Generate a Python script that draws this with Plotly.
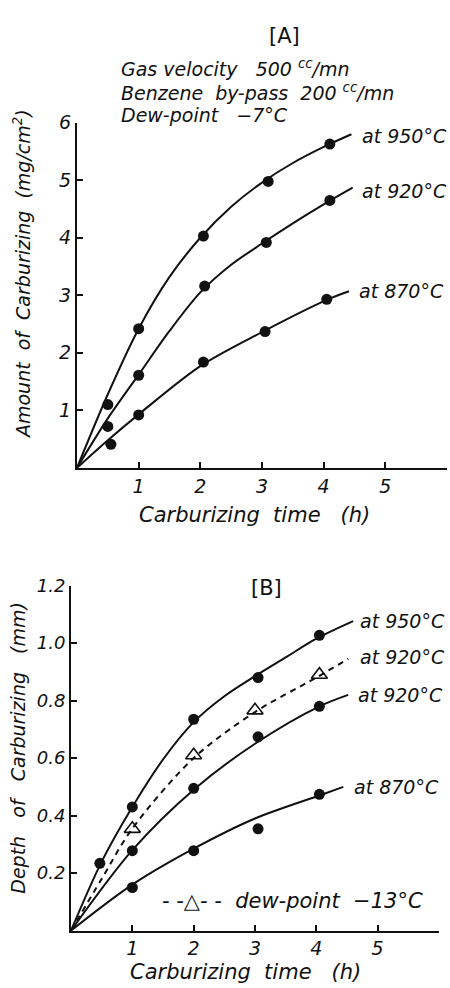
import plotly.graph_objects as go

# ---------------- data: panel A (amount of carburizing, mg/cm2) ----------------
a950_pts_x = [0.5, 1.0, 2.05, 3.1, 4.1]
a950_pts_y = [1.1, 2.42, 4.03, 4.98, 5.63]
a920_pts_x = [0.5, 1.0, 2.07, 3.07, 4.1]
a920_pts_y = [0.72, 1.61, 3.16, 3.92, 4.65]
a870_pts_x = [0.55, 1.0, 2.05, 3.05, 4.05]
a870_pts_y = [0.41, 0.92, 1.84, 2.37, 2.93]

a950_curve_x = [0, 0.5, 1.0, 1.5, 2.0, 2.5, 3.0, 3.5, 4.0, 4.45]
a950_curve_y = [0, 1.28, 2.42, 3.32, 4.0, 4.54, 4.96, 5.3, 5.58, 5.8]
a920_curve_x = [0, 0.5, 1.0, 1.5, 2.0, 2.5, 3.0, 3.5, 4.0, 4.47]
a920_curve_y = [0, 0.86, 1.62, 2.38, 3.05, 3.53, 3.9, 4.25, 4.58, 4.87]
a870_curve_x = [0, 0.5, 1.0, 2.0, 3.0, 4.05, 4.41]
a870_curve_y = [0, 0.48, 0.93, 1.77, 2.36, 2.92, 3.07]

# ---------------- data: panel B (depth of carburizing, mm) ----------------
b950_pts_x = [0.47, 1.0, 2.0, 3.05, 4.05]
b950_pts_y = [0.234, 0.43, 0.735, 0.88, 1.027]
b920d_pts_x = [1.0, 2.0, 3.0, 4.05]
b920d_pts_y = [0.354, 0.61, 0.766, 0.89]
b920_pts_x = [1.0, 2.0, 3.05, 4.05]
b920_pts_y = [0.278, 0.495, 0.674, 0.78]
b870_pts_x = [1.0, 2.0, 3.05, 4.05]
b870_pts_y = [0.15, 0.278, 0.354, 0.474]

b950_curve_x = [0, 0.5, 1.0, 1.5, 2.0, 2.5, 3.0, 3.5, 4.0, 4.6]
b950_curve_y = [0, 0.24, 0.43, 0.595, 0.725, 0.815, 0.885, 0.95, 1.015, 1.076]
b920d_curve_x = [0, 0.5, 1.0, 2.0, 3.0, 4.0, 4.52]
b920d_curve_y = [0, 0.18, 0.355, 0.6, 0.76, 0.88, 0.945]
b920_curve_x = [0, 1.0, 2.0, 3.0, 4.05, 4.52]
b920_curve_y = [0, 0.28, 0.49, 0.65, 0.78, 0.82]
b870_curve_x = [0, 1.0, 2.0, 3.0, 4.05, 4.44]
b870_curve_y = [0, 0.16, 0.285, 0.39, 0.47, 0.5]

xticks = [1, 2, 3, 4, 5]
a_yticks = [1, 2, 3, 4, 5, 6]
b_yticks = [0.2, 0.4, 0.6, 0.8, 1.0, 1.2]
b_yticklabels = ["0.2", "0.4", "0.6", "0.8", "1.0", "1.2"]

FONT = "DejaVu Sans"
BLACK = "#111111"

fig = go.Figure()

def curve(x, y, xa, ya, dash="solid"):
    fig.add_trace(go.Scatter(x=x, y=y, xaxis=xa, yaxis=ya, mode="lines",
                             line=dict(color=BLACK, width=2, shape="spline", smoothing=0.9, dash=dash),
                             hoverinfo="skip", showlegend=False))

def pts(x, y, xa, ya, symbol="circle"):
    if symbol == "circle":
        m = dict(symbol="circle", size=11, color=BLACK)
    else:
        m = dict(symbol="triangle-up-open", size=14, color=BLACK, line=dict(width=1.6, color=BLACK))
    fig.add_trace(go.Scatter(x=x, y=y, xaxis=xa, yaxis=ya, mode="markers",
                             marker=m, showlegend=False))

curve(a950_curve_x, a950_curve_y, "x", "y")
curve(a920_curve_x, a920_curve_y, "x", "y")
curve(a870_curve_x, a870_curve_y, "x", "y")
pts(a950_pts_x, a950_pts_y, "x", "y")
pts(a920_pts_x, a920_pts_y, "x", "y")
pts(a870_pts_x, a870_pts_y, "x", "y")

curve(b950_curve_x, b950_curve_y, "x2", "y2")
curve(b920d_curve_x, b920d_curve_y, "x2", "y2", dash="6px,5px")
curve(b920_curve_x, b920_curve_y, "x2", "y2")
curve(b870_curve_x, b870_curve_y, "x2", "y2")
pts(b950_pts_x, b950_pts_y, "x2", "y2")
pts(b920d_pts_x, b920d_pts_y, "x2", "y2", symbol="triangle")
pts(b920_pts_x, b920_pts_y, "x2", "y2")
pts(b870_pts_x, b870_pts_y, "x2", "y2")

W, H = 450, 988
def px(v):
    return v / W
def py(v):
    return 1 - v / H

def axis(size):
    return dict(showgrid=False, zeroline=False, showline=True, linecolor=BLACK,
                linewidth=2, ticks="inside", ticklen=6, tickwidth=1.5, tickcolor=BLACK,
                tickfont=dict(family=FONT, size=size, color=BLACK, style="italic"),
                fixedrange=True)

fig.update_layout(
    width=W, height=H, margin=dict(l=0, r=0, t=0, b=0),
    paper_bgcolor="white", plot_bgcolor="white", showlegend=False,
    xaxis=dict(domain=[px(77), px(447)], range=[0, 6], anchor="y",
               tickvals=xticks, ticktext=[str(v) for v in xticks], **axis(19)),
    yaxis=dict(domain=[py(462), py(113)], range=[0, 6], anchor="x",
               tickvals=a_yticks, ticktext=[str(v) for v in a_yticks], **axis(19)),
    xaxis2=dict(domain=[px(71), px(439)], range=[0, 6], anchor="y2",
                tickvals=xticks, ticktext=[str(v) for v in xticks], **axis(19)),
    yaxis2=dict(domain=[py(930), py(581)], range=[0, 1.2], anchor="x2",
                tickvals=b_yticks, ticktext=b_yticklabels, **axis(18)),
)

def ann(text, x, y, size=19, xanchor="left", angle=0, italic=True):
    fig.add_annotation(text=text, x=px(x), y=py(y), xref="paper", yref="paper",
                       xanchor=xanchor, yanchor="middle", showarrow=False, textangle=angle,
                       font=dict(family=FONT, size=size, color=BLACK,
                                 style="italic" if italic else "normal"))

# panel A texts
ann("[A]", 284, 25, size=21, xanchor="center", italic=False)
ann("Gas velocity   500 <sup>cc</sup>/mn", 119, 58, size=19)
ann("Benzene  by-pass  200 <sup>cc</sup>/mn", 119, 82, size=19)
ann("Dew-point   −7°C", 119, 105, size=19)
ann("at 950°C", 360, 126)
ann("at 920°C", 360, 182)
ann("at 870°C", 357, 283)
ann("Carburizing  time   (h)", 254, 510, size=21, xanchor="center")
ann("Amount  of  Carburizing  (mg/cm<sup>2</sup>)", 22, 266, size=19, xanchor="center", angle=-90)

# panel B texts
ann("[B]", 266, 584, size=21, xanchor="center", italic=False)
ann("at 950°C", 358, 617)
ann("at 920°C", 358, 653)
ann("at 920°C", 356, 692)
ann("at 870°C", 352, 785)
ann("- -△- -  dew-point  −13°C", 160, 900, size=21)
ann("Carburizing  time   (h)", 246, 972, size=21, xanchor="center")
ann("Depth   of   Carburizing   (mm)", 18, 745, size=19, xanchor="center", angle=-90)

fig.write_html("out.html")
